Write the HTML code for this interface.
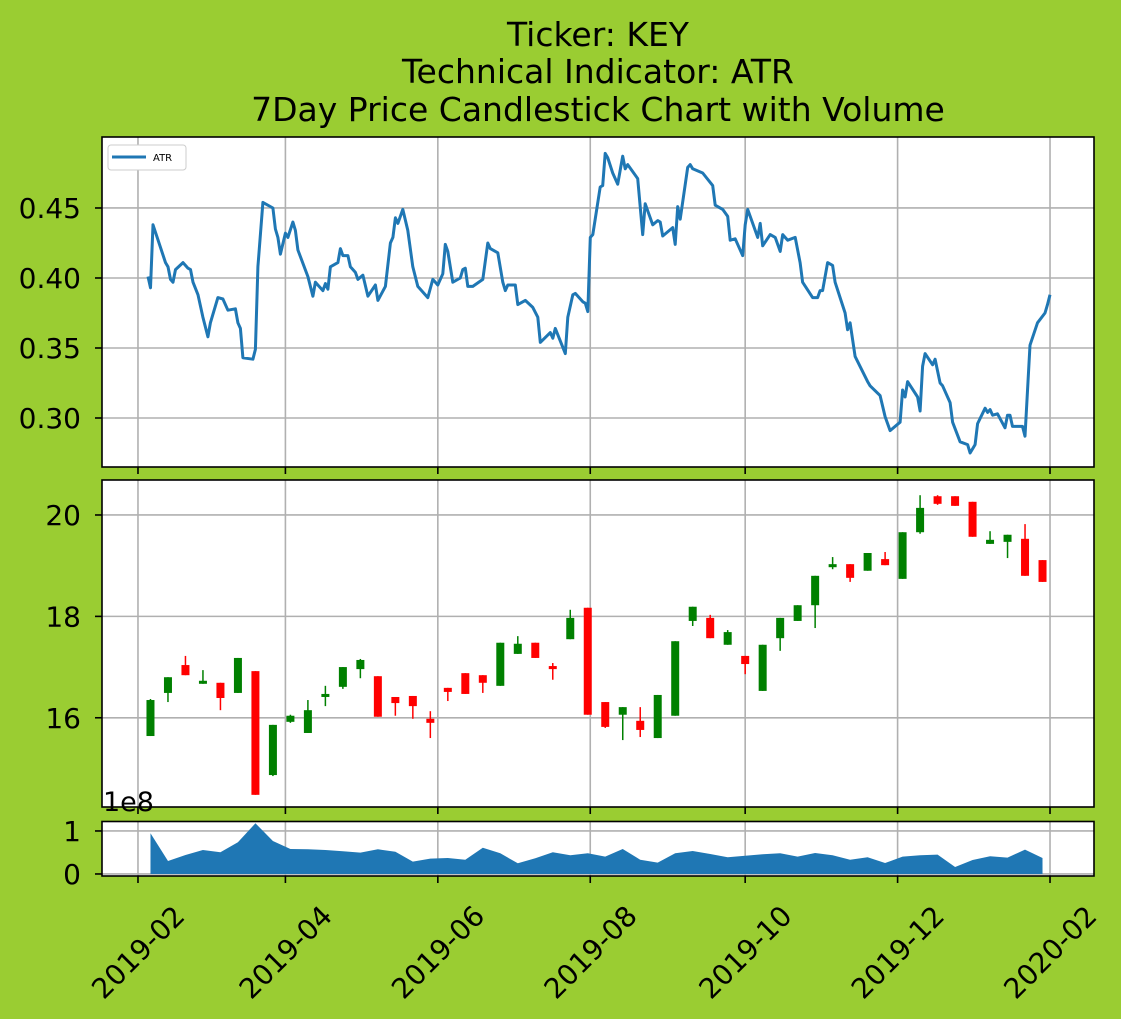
<!DOCTYPE html>
<html><head><meta charset="utf-8">
<style>
html,body{margin:0;padding:0;background:#9acd32;}
svg{display:block;font-family:"DejaVu Sans","Liberation Sans",sans-serif;}
</style></head>
<body>
<svg id="chart" width="1121" height="1019" xmlns="http://www.w3.org/2000/svg">
<rect x="0" y="0" width="1121" height="1019" fill="#9acd32"/>
<text x="598" y="46" font-size="33" text-anchor="middle">Ticker: KEY</text>
<text x="598" y="83" font-size="33" text-anchor="middle">Technical Indicator: ATR</text>
<text x="598" y="121" font-size="33" text-anchor="middle">7Day Price Candlestick Chart with Volume</text>
<g id="g"></g>
</svg>
<script>
// ATR: day offset from 2019-02-01, value
const atrDays=[4,5,6,11,12,13,14,15,18,20,21,22,24,26,28,29,32,34,36,39,40,41,42,46,47,48,50,54,55,56,57,59,60,62,63,64,68,70,71,74,75,76,77,80,81,82,84,85,87,88,90,92,95,96,99,101,102,103,104,106,108,110,112,116,118,120,122,123,124,126,129,130,131,132,134,138,140,141,144,146,147,148,151,152,155,158,160,161,165,166,167,171,172,174,175,178,179,180,181,182,185,186,187,188,190,192,194,195,196,200,202,203,206,208,209,210,214,215,216,217,220,221,222,226,230,231,234,236,237,239,242,243,244,246,248,249,250,253,255,257,258,260,263,265,266,270,272,273,274,276,278,279,281,283,284,285,287,292,293,297,299,301,305,306,307,308,312,313,314,315,318,319,321,322,325,326,329,332,333,335,336,339,340,341,342,344,347,348,349,350,354,355,357,360,363,364,365];
const atrValues=[0.401,0.393,0.438,0.411,0.408,0.399,0.397,0.406,0.411,0.407,0.406,0.397,0.388,0.372,0.358,0.368,0.386,0.385,0.377,0.378,0.368,0.364,0.343,0.342,0.349,0.408,0.454,0.450,0.435,0.429,0.417,0.432,0.429,0.440,0.434,0.420,0.401,0.387,0.397,0.391,0.396,0.392,0.408,0.411,0.421,0.416,0.416,0.408,0.404,0.399,0.402,0.387,0.395,0.384,0.394,0.425,0.429,0.443,0.439,0.449,0.434,0.408,0.394,0.386,0.399,0.395,0.403,0.424,0.419,0.397,0.400,0.406,0.407,0.394,0.394,0.399,0.425,0.421,0.418,0.397,0.391,0.395,0.395,0.381,0.384,0.379,0.372,0.354,0.361,0.357,0.364,0.346,0.372,0.388,0.389,0.383,0.382,0.376,0.429,0.431,0.465,0.466,0.489,0.486,0.475,0.467,0.487,0.478,0.481,0.471,0.431,0.453,0.438,0.441,0.440,0.430,0.436,0.424,0.451,0.442,0.479,0.481,0.478,0.475,0.466,0.452,0.449,0.444,0.427,0.428,0.416,0.438,0.449,0.439,0.429,0.439,0.423,0.431,0.429,0.419,0.431,0.427,0.429,0.411,0.397,0.386,0.386,0.391,0.391,0.411,0.409,0.397,0.386,0.375,0.363,0.368,0.344,0.326,0.323,0.316,0.301,0.291,0.297,0.320,0.315,0.326,0.315,0.305,0.337,0.346,0.338,0.342,0.325,0.323,0.311,0.297,0.283,0.281,0.275,0.281,0.296,0.307,0.304,0.306,0.302,0.303,0.293,0.302,0.302,0.294,0.294,0.287,0.352,0.368,0.375,0.381,0.388];
// Weekly candles: week index k -> day offset 5+7k
const candleWeeks=[0,1,2,3,4,5,6,7,8,9,10,11,12,13,14,15,16,17,18,19,20,21,22,23,24,25,26,27,28,29,30,31,32,33,34,35,36,37,38,39,40,41,42,43,44,45,46,47,48,49,50,51];
const opens=[15.64,16.49,17.04,16.67,16.69,16.49,16.92,14.87,15.92,15.70,16.41,16.61,16.96,16.82,16.41,16.43,15.98,16.59,16.88,16.84,16.63,17.26,17.48,17.02,17.55,18.17,16.31,16.06,15.94,15.60,16.04,17.91,17.97,17.44,17.22,16.53,17.57,17.91,18.22,18.97,19.03,18.90,19.13,18.74,19.66,20.37,20.37,20.26,19.43,19.47,19.53,19.11];
const closes=[16.35,16.80,16.84,16.73,16.39,17.18,14.48,15.86,16.04,16.15,16.47,17.00,17.14,16.02,16.29,16.23,15.90,16.51,16.47,16.69,17.48,17.46,17.18,16.96,17.97,16.06,15.82,16.21,15.76,16.45,17.51,18.19,17.57,17.69,17.06,17.44,17.97,18.22,18.80,19.03,18.76,19.25,19.01,19.66,20.14,20.22,20.18,19.57,19.51,19.61,18.80,18.68];
const highs=[16.37,16.80,17.22,16.94,16.69,17.18,16.92,15.86,16.06,16.35,16.63,17.00,17.16,16.82,16.41,16.43,16.13,16.59,16.88,16.84,17.48,17.61,17.48,17.08,18.13,18.17,16.31,16.21,16.21,16.45,17.51,18.19,18.03,17.73,17.22,17.44,17.97,18.22,18.80,19.17,19.03,19.25,19.27,19.66,20.39,20.39,20.37,20.26,19.68,19.61,19.82,19.11];
const lows=[15.64,16.31,16.84,16.67,16.15,16.49,14.48,14.85,15.90,15.70,16.23,16.57,16.78,16.02,16.04,15.98,15.60,16.33,16.47,16.49,16.63,17.26,17.18,16.75,17.55,16.06,15.80,15.56,15.62,15.60,16.04,17.81,17.57,17.44,16.86,16.53,17.32,17.91,17.77,18.93,18.68,18.90,19.01,18.74,19.63,20.20,20.18,19.57,19.43,19.15,18.80,18.68];
const volumes=[0.946,0.302,0.442,0.558,0.504,0.736,1.178,0.767,0.581,0.574,0.558,0.527,0.496,0.574,0.519,0.287,0.357,0.372,0.333,0.612,0.481,0.248,0.364,0.504,0.434,0.481,0.403,0.581,0.333,0.264,0.481,0.535,0.465,0.388,0.426,0.457,0.481,0.403,0.488,0.434,0.333,0.388,0.256,0.403,0.434,0.450,0.163,0.326,0.411,0.380,0.566,0.372];
const xTickDays=[0,59,120,181,243,304,365];
const xTickLabels=["2019-02","2019-04","2019-06","2019-08","2019-10","2019-12","2020-02"];
const atrTicks=[0.30,0.35,0.40,0.45];
const atrTickLabels=["0.30","0.35","0.40","0.45"];
const priceTicks=[16,18,20];
const volTicks=[0,1];

const NS="http://www.w3.org/2000/svg";
const g=document.getElementById('g');
function el(tag,attrs,parent){const e=document.createElementNS(NS,tag);for(const k in attrs)e.setAttribute(k,attrs[k]);(parent||g).appendChild(e);return e;}
const L=102,R=1094;
const xMin=-14.4,xMax=382.6;
function X(d){return L+(d-xMin)/(xMax-xMin)*(R-L);}
const P1={t:137,b:467,min:0.2650,max:0.5007};
const P2={t:480,b:807,min:14.24,max:20.69};
const P3={t:821.5,b:876,min:-0.047,max:1.22};
function Y(p,v){return p.b-(v-p.min)/(p.max-p.min)*(p.b-p.t);}
const grid="#b0b0b0";
function panel(p,name,yt,ylab){
  const bg=el('rect',{x:L,y:p.t,width:R-L,height:p.b-p.t,fill:'#fff'});
  
  
  xTickDays.forEach((d)=>{const l=el('line',{x1:X(d),x2:X(d),y1:p.t,y2:p.b,stroke:grid,'stroke-width':1.6});
    
    const t=el('line',{x1:X(d),x2:X(d),y1:p.b,y2:p.b+7,stroke:'#000','stroke-width':1.6});
    });
  yt.forEach((v,i)=>{const y=Y(p,v);
    const l=el('line',{x1:L,x2:R,y1:y,y2:y,stroke:grid,'stroke-width':1.6});
    
    const t=el('line',{x1:L-7,x2:L,y1:y,y2:y,stroke:'#000','stroke-width':1.6});
    
    const tx=el('text',{x:L-21,y:y+10,'font-size':28,'text-anchor':'end'});tx.textContent=ylab[i];
    });
}
panel(P1,'atr',atrTicks,atrTickLabels);
panel(P2,'price',priceTicks,priceTicks.map(String));
panel(P3,'volume',volTicks,volTicks.map(String));

// ATR line
let d='';atrDays.forEach((dd,i)=>{d+=(i?'L':'M')+X(dd).toFixed(1)+' '+Y(P1,atrValues[i]).toFixed(1);});
const atrLine=el('path',{d:d,fill:'none',stroke:'#1f77b4','stroke-width':3,'stroke-linejoin':'round'});



// candles
candleWeeks.forEach((k,i)=>{const day=5+7*k;const cx=X(day);
  const up=closes[i]>=opens[i];const col=up?'#008000':'#ff0000';
  const w=el('line',{x1:cx,x2:cx,y1:Y(P2,highs[i]),y2:Y(P2,lows[i]),stroke:col,'stroke-width':1.5});
  
  
  const top=Y(P2,Math.max(opens[i],closes[i])),bot=Y(P2,Math.min(opens[i],closes[i]));
  const b=el('rect',{x:cx-4,y:top,width:8,height:Math.max(bot-top,1.5),fill:col});
  
  
});

// volume area
let vd='M'+X(5)+' '+Y(P3,0);
candleWeeks.forEach((k,i)=>{vd+='L'+X(5+7*k).toFixed(1)+' '+Y(P3,volumes[i]).toFixed(1);});
vd+='L'+X(5+7*candleWeeks[candleWeeks.length-1])+' '+Y(P3,0)+'Z';
const va=el('path',{d:vd,fill:'#1f77b4'});



// frames
[[P1,'atr'],[P2,'price'],[P3,'volume']].forEach(([p,n])=>{const r=el('rect',{x:L,y:p.t,width:R-L,height:p.b-p.t,fill:'none',stroke:'#000','stroke-width':1.6});
  });

// x tick labels (center-aligned, rotated 45deg)
xTickDays.forEach((dd,i)=>{const cx=X(dd),cy=P3.b+76;
  const t=el('text',{x:cx,y:cy+10,'font-size':28,'text-anchor':'middle',transform:'rotate(-45 '+cx+' '+cy+')'});
  t.textContent=xTickLabels[i];
  
  });

// offset text
const off=el('text',{x:103,y:811,'font-size':27});off.textContent='1e8';



// legend
const lg=el('g',{});


el('rect',{x:108,y:145,width:78,height:25,rx:3,fill:'#fff',stroke:'#ccc','stroke-width':1},lg);
el('line',{x1:112,x2:146,y1:157,y2:157,stroke:'#1f77b4','stroke-width':3},lg);
const lt=el('text',{x:153,y:161,'font-size':10},lg);lt.textContent='ATR';


</script>
</body></html>
